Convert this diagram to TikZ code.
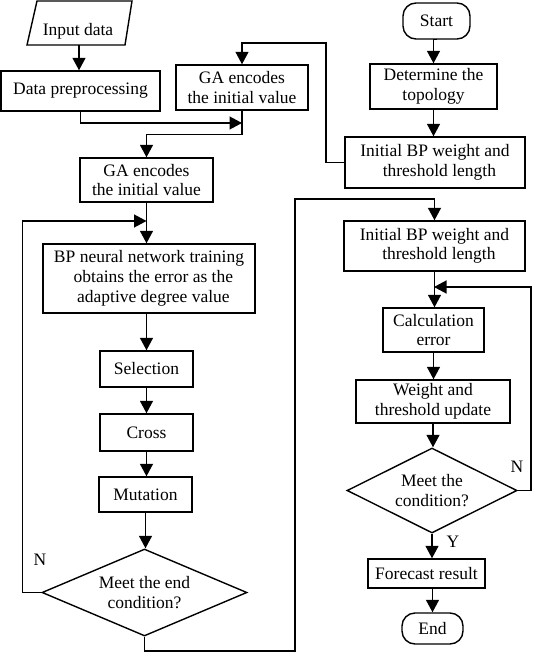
\documentclass[tikz,border=0pt]{standalone}
\usepackage{fontspec}
\setmainfont{Liberation Serif}
\usetikzlibrary{shapes.geometric,arrows.meta,calc}
\begin{document}
\begin{tikzpicture}[x=1pt,y=-1pt,
  every node/.style={font=\fontsize{17.5}{19.5}\selectfont},
  box/.style={draw,line width=1.4pt,inner sep=0pt,align=center},
  term/.style={box,rounded corners=13pt},
  dec/.style={draw,line width=1.4pt,shape=diamond,inner sep=0pt,aspect=2.3,align=center},
  conn/.style={line width=1.4pt},
  arr/.style={conn,-{Triangle[length=12.5pt,width=13pt]}},
  lbl/.style={inner sep=0pt}
]
\useasboundingbox (0,0) rectangle (533,652);
% input parallelogram
\draw[line width=1.4pt] (37,1) -- (132,1) -- (125,45) -- (27,45) -- cycle;
\node[lbl] (in) at (78,31) {Input data};
\coordinate (inb) at (79,45);

\node[box,minimum width=159,minimum height=40] (pre) at (80.5,91) {Data preprocessing};
\node[box,minimum width=132,minimum height=45] (ga1) at (242,87.5) {GA encodes\\the initial value};
\node[box,minimum width=133,minimum height=44] (ga2) at (146.5,180) {GA encodes\\the initial value};
\node[box,minimum width=212,minimum height=69,font=\fontsize{17.5}{20}\selectfont] (bp) at (149,278.5) {BP neural network training\\\ \ obtains the error as the\\\ \ adaptive degree value};
\node[box,minimum width=93,minimum height=36] (sel) at (146.5,369) {Selection};
\node[box,minimum width=93,minimum height=37] (cro) at (146.5,432.5) {Cross};
\node[box,minimum width=93,minimum height=35] (mut) at (145.5,494.5) {Mutation};
\node[dec,minimum width=205,minimum height=87] (d1) at (144.5,592.5) {Meet the end\\condition?};

\node[term,minimum width=67,minimum height=36] (start) at (436.5,21) {Start};
\node[box,minimum width=127,minimum height=45] (det) at (433.5,86.5) {Determine the\\topology};
\node[box,minimum width=180,minimum height=51] (ib1) at (435,162.5) {Initial BP weight and\\\ \ threshold length};
\node[box,minimum width=181,minimum height=50] (ib2) at (434.5,246) {Initial BP weight and\\\ \ threshold length};
\node[box,minimum width=101,minimum height=44] (calc) at (433.5,330) {Calculation\\error};
\node[box,minimum width=154,minimum height=43] (wt) at (433,401.5) {Weight and\\threshold update};
\node[dec,minimum width=170,minimum height=85] (d2) at (432,490.5) {Meet the\\condition?};
\node[box,minimum width=117,minimum height=29] (fc) at (426.5,573.5) {Forecast result};
\node[term,minimum width=61,minimum height=31] (end) at (432.5,628.5) {End};

\node[lbl] (n1) at (40,560) {N};
\node[lbl] (n2) at (517,467) {N};
\node[lbl] (y2) at (453,542) {Y};

\coordinate (j1) at (242,123);
\coordinate (j2) at (146.5,221);
\coordinate (j3) at (434,287);

% left column
\draw[arr] (inb) -- (inb |- pre.north);
\draw[arr] (pre.south) |- (j1);
\draw[arr] (ga1.south) -- ++(0,24) -| (ga2.north);
\draw[arr] (ga2.south) -- (ga2.south |- bp.north);
\draw[arr] (sel.north |- bp.south) -- (sel.north);
\draw[arr] (sel.south) -- (cro.north);
\draw[arr] (cro.south) -- (cro.south |- mut.north);
\draw[arr] (mut.south) -- (mut.south |- d1.north);
\draw[arr] (d1.west) -- ++(-19,0) |- (j2);
\draw[arr] (d1.south) |- (295,651) -- (295,199) -| (ib2.north);
\draw[arr] (ib1.west) -| (326,43) -| (ga1.north);

% right column
\draw[arr] (start.south) -- (start.south -| det.north) -- (det.north);
\draw[arr] (det.south) -- (det.south |- ib1.north);
\draw[arr] (ib2.south) -- (ib2.south |- calc.north);
\draw[arr] (calc.south) -- (calc.south |- wt.north);
\draw[arr] (wt.south) -- (wt.south |- d2.north);
\draw[arr] (d2.east) -| (531,287) -- (j3);
\draw[arr] (d2.south) -- (d2.south |- fc.north);
\draw[arr] (end.north |- fc.south) -- (end.north);
\end{tikzpicture}
\end{document}
